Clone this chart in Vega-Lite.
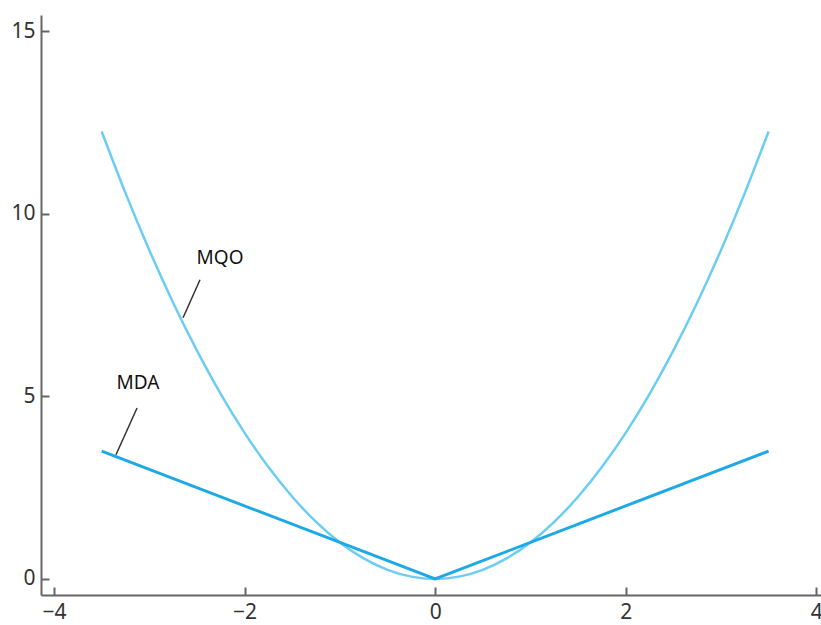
{
  "$schema": "https://vega.github.io/schema/vega-lite/v6.json",
  "autosize": "none",
  "padding": {"left": 41, "top": 15, "right": 0, "bottom": 30},
  "width": 780,
  "height": 580,
  "background": "white",
  "config": {
    "view": {"stroke": null},
    "axis": {
      "grid": false,
      "domainColor": "#666666",
      "domainWidth": 2,
      "tickColor": "#666666",
      "tickWidth": 2,
      "tickSize": -8,
      "labelFont": "Noto Sans",
      "labelFontSize": 21,
      "labelColor": "#333333",
      "title": null
    }
  },
  "datasets": {
    "mqo": [
      {"x": -3.5, "y": 12.25}, {"x": -3.25, "y": 10.5625}, {"x": -3, "y": 9}, {"x": -2.75, "y": 7.5625},
      {"x": -2.5, "y": 6.25}, {"x": -2.25, "y": 5.0625}, {"x": -2, "y": 4}, {"x": -1.75, "y": 3.0625},
      {"x": -1.5, "y": 2.25}, {"x": -1.25, "y": 1.5625}, {"x": -1, "y": 1}, {"x": -0.75, "y": 0.5625},
      {"x": -0.5, "y": 0.25}, {"x": -0.25, "y": 0.0625}, {"x": 0, "y": 0}, {"x": 0.25, "y": 0.0625},
      {"x": 0.5, "y": 0.25}, {"x": 0.75, "y": 0.5625}, {"x": 1, "y": 1}, {"x": 1.25, "y": 1.5625},
      {"x": 1.5, "y": 2.25}, {"x": 1.75, "y": 3.0625}, {"x": 2, "y": 4}, {"x": 2.25, "y": 5.0625},
      {"x": 2.5, "y": 6.25}, {"x": 2.75, "y": 7.5625}, {"x": 3, "y": 9}, {"x": 3.25, "y": 10.5625},
      {"x": 3.5, "y": 12.25}
    ],
    "mda": [
      {"x": -3.5, "y": 3.5}, {"x": 0, "y": 0}, {"x": 3.5, "y": 3.5}
    ],
    "leaders": [
      {"x": -2.646, "y": 7.15, "x2": -2.468, "y2": 8.19},
      {"x": -3.35, "y": 3.40, "x2": -3.129, "y2": 4.68}
    ],
    "labels": [
      {"x": -2.258, "y": 8.79, "text": "MQO"},
      {"x": -3.119, "y": 5.37, "text": "MDA"}
    ]
  },
  "layer": [
    {
      "data": {"name": "mqo"},
      "mark": {"type": "line", "color": "#6ccdf4", "strokeWidth": 2.5, "interpolate": "monotone"},
      "encoding": {
        "x": {"field": "x", "type": "quantitative",
              "scale": {"domain": [-4.137, 4.05], "nice": false, "zero": false},
              "axis": {"values": [-4, -2, 0, 2, 4], "labelPadding": 14,
                       "labelExpr": "replace(format(datum.value, 'd'), '-', '\u2212')"}},
        "y": {"field": "y", "type": "quantitative",
              "scale": {"domain": [-0.44, 15.44], "nice": false, "zero": false},
              "axis": {"values": [0, 5, 10, 15], "labelPadding": 14,
                       "labelExpr": "format(datum.value, 'd')"}}
      }
    },
    {
      "data": {"name": "mda"},
      "mark": {"type": "line", "color": "#1ca9e6", "strokeWidth": 3},
      "encoding": {
        "x": {"field": "x", "type": "quantitative"},
        "y": {"field": "y", "type": "quantitative"}
      }
    },
    {
      "data": {"name": "leaders"},
      "mark": {"type": "rule", "color": "#333333", "strokeWidth": 1.5},
      "encoding": {
        "x": {"field": "x", "type": "quantitative"},
        "y": {"field": "y", "type": "quantitative"},
        "x2": {"field": "x2"},
        "y2": {"field": "y2"}
      }
    },
    {
      "data": {"name": "labels"},
      "mark": {"type": "text", "font": "Noto Sans", "fontSize": 19, "color": "#111111", "align": "center", "baseline": "middle"},
      "encoding": {
        "x": {"field": "x", "type": "quantitative"},
        "y": {"field": "y", "type": "quantitative"},
        "text": {"field": "text"}
      }
    }
  ]
}
